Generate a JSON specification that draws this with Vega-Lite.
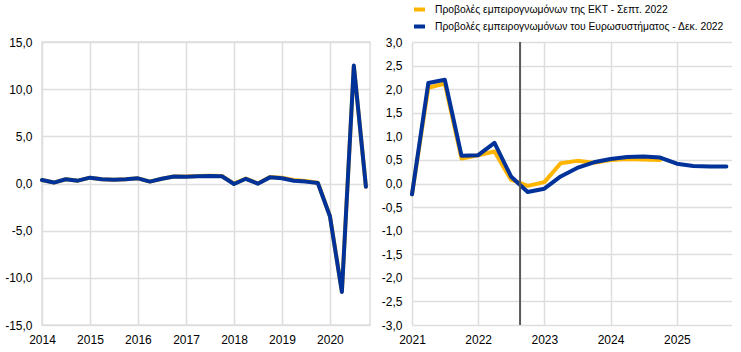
{
  "$schema": "https://vega.github.io/schema/vega-lite/v6.json",
  "background": "white",
  "padding": {"left": 3, "top": 2, "right": 0, "bottom": 0},
  "bounds": "flush",
  "spacing": 42,
  "config": {
    "locale": {"number": {"decimal": ",", "thousands": ".", "grouping": [3], "currency": ["", " €"], "minus": "-"}},
    "font": "Liberation Sans",
    "view": {"stroke": null},
    "axis": {"labelFont": "Liberation Sans", "labelFontSize": 12, "labelColor": "#000000", "gridColor": "#dedede", "gridWidth": 1.5, "domain": false, "ticks": false, "title": null, "labelOverlap": false},
    "line": {"strokeWidth": 4, "strokeJoin": "round", "strokeCap": "round"},
    "legend": {"symbolType": "stroke", "symbolStrokeWidth": 4, "symbolSize": 120, "labelFont": "Liberation Sans", "labelFontSize": 10.3, "labelColor": "#000000", "rowPadding": 4, "padding": 0, "labelOffset": 8, "labelLimit": 400}
  },
  "datasets": {
    "hist": [
      {"date": "2014-01-01", "series": "ecb", "value": 0.37},
      {"date": "2014-04-01", "series": "ecb", "value": 0.1},
      {"date": "2014-07-01", "series": "ecb", "value": 0.45},
      {"date": "2014-10-01", "series": "ecb", "value": 0.3},
      {"date": "2015-01-01", "series": "ecb", "value": 0.62},
      {"date": "2015-04-01", "series": "ecb", "value": 0.45},
      {"date": "2015-07-01", "series": "ecb", "value": 0.4},
      {"date": "2015-10-01", "series": "ecb", "value": 0.45},
      {"date": "2016-01-01", "series": "ecb", "value": 0.55},
      {"date": "2016-04-01", "series": "ecb", "value": 0.2},
      {"date": "2016-07-01", "series": "ecb", "value": 0.5},
      {"date": "2016-10-01", "series": "ecb", "value": 0.75},
      {"date": "2017-01-01", "series": "ecb", "value": 0.74},
      {"date": "2017-04-01", "series": "ecb", "value": 0.8},
      {"date": "2017-07-01", "series": "ecb", "value": 0.82},
      {"date": "2017-10-01", "series": "ecb", "value": 0.79},
      {"date": "2018-01-01", "series": "ecb", "value": -0.02},
      {"date": "2018-04-01", "series": "ecb", "value": 0.52},
      {"date": "2018-07-01", "series": "ecb", "value": 0.0},
      {"date": "2018-10-01", "series": "ecb", "value": 0.68},
      {"date": "2019-01-01", "series": "ecb", "value": 0.62},
      {"date": "2019-04-01", "series": "ecb", "value": 0.38},
      {"date": "2019-07-01", "series": "ecb", "value": 0.26},
      {"date": "2019-10-01", "series": "ecb", "value": 0.08},
      {"date": "2020-01-01", "series": "ecb", "value": -3.45},
      {"date": "2020-04-01", "series": "ecb", "value": -11.45},
      {"date": "2020-07-01", "series": "ecb", "value": 12.45},
      {"date": "2020-10-01", "series": "ecb", "value": -0.34},
      {"date": "2014-01-01", "series": "eur", "value": 0.37},
      {"date": "2014-04-01", "series": "eur", "value": 0.1},
      {"date": "2014-07-01", "series": "eur", "value": 0.45},
      {"date": "2014-10-01", "series": "eur", "value": 0.3},
      {"date": "2015-01-01", "series": "eur", "value": 0.62},
      {"date": "2015-04-01", "series": "eur", "value": 0.45},
      {"date": "2015-07-01", "series": "eur", "value": 0.4},
      {"date": "2015-10-01", "series": "eur", "value": 0.45},
      {"date": "2016-01-01", "series": "eur", "value": 0.55},
      {"date": "2016-04-01", "series": "eur", "value": 0.2},
      {"date": "2016-07-01", "series": "eur", "value": 0.5},
      {"date": "2016-10-01", "series": "eur", "value": 0.75},
      {"date": "2017-01-01", "series": "eur", "value": 0.72},
      {"date": "2017-04-01", "series": "eur", "value": 0.78},
      {"date": "2017-07-01", "series": "eur", "value": 0.8},
      {"date": "2017-10-01", "series": "eur", "value": 0.77},
      {"date": "2018-01-01", "series": "eur", "value": -0.05},
      {"date": "2018-04-01", "series": "eur", "value": 0.5},
      {"date": "2018-07-01", "series": "eur", "value": -0.02},
      {"date": "2018-10-01", "series": "eur", "value": 0.65},
      {"date": "2019-01-01", "series": "eur", "value": 0.55},
      {"date": "2019-04-01", "series": "eur", "value": 0.3},
      {"date": "2019-07-01", "series": "eur", "value": 0.2},
      {"date": "2019-10-01", "series": "eur", "value": 0.05},
      {"date": "2020-01-01", "series": "eur", "value": -3.47},
      {"date": "2020-04-01", "series": "eur", "value": -11.5},
      {"date": "2020-07-01", "series": "eur", "value": 12.5},
      {"date": "2020-10-01", "series": "eur", "value": -0.34}
    ],
    "proj": [
      {"date": "2021-01-01", "series": "ecb", "value": -0.23},
      {"date": "2021-04-01", "series": "ecb", "value": 2.03},
      {"date": "2021-07-01", "series": "ecb", "value": 2.12},
      {"date": "2021-10-01", "series": "ecb", "value": 0.53},
      {"date": "2022-01-01", "series": "ecb", "value": 0.6},
      {"date": "2022-04-01", "series": "ecb", "value": 0.68},
      {"date": "2022-07-01", "series": "ecb", "value": 0.08},
      {"date": "2022-10-01", "series": "ecb", "value": -0.05},
      {"date": "2023-01-01", "series": "ecb", "value": 0.03},
      {"date": "2023-04-01", "series": "ecb", "value": 0.43},
      {"date": "2023-07-01", "series": "ecb", "value": 0.48},
      {"date": "2023-10-01", "series": "ecb", "value": 0.44},
      {"date": "2024-01-01", "series": "ecb", "value": 0.5},
      {"date": "2024-04-01", "series": "ecb", "value": 0.52},
      {"date": "2024-07-01", "series": "ecb", "value": 0.51},
      {"date": "2024-10-01", "series": "ecb", "value": 0.5},
      {"date": "2021-01-01", "series": "eur", "value": -0.23},
      {"date": "2021-04-01", "series": "eur", "value": 2.13},
      {"date": "2021-07-01", "series": "eur", "value": 2.2},
      {"date": "2021-10-01", "series": "eur", "value": 0.59},
      {"date": "2022-01-01", "series": "eur", "value": 0.6},
      {"date": "2022-04-01", "series": "eur", "value": 0.86},
      {"date": "2022-07-01", "series": "eur", "value": 0.15},
      {"date": "2022-10-01", "series": "eur", "value": -0.18},
      {"date": "2023-01-01", "series": "eur", "value": -0.11},
      {"date": "2023-04-01", "series": "eur", "value": 0.15},
      {"date": "2023-07-01", "series": "eur", "value": 0.33},
      {"date": "2023-10-01", "series": "eur", "value": 0.45},
      {"date": "2024-01-01", "series": "eur", "value": 0.52},
      {"date": "2024-04-01", "series": "eur", "value": 0.56},
      {"date": "2024-07-01", "series": "eur", "value": 0.57},
      {"date": "2024-10-01", "series": "eur", "value": 0.55},
      {"date": "2025-01-01", "series": "eur", "value": 0.42},
      {"date": "2025-04-01", "series": "eur", "value": 0.37},
      {"date": "2025-07-01", "series": "eur", "value": 0.36},
      {"date": "2025-10-01", "series": "eur", "value": 0.36}
    ],
    "cutoff": [{"date": "2022-08-20"}]
  },
  "hconcat": [
    {
      "width": 328,
      "height": 283,
      "view": {"stroke": "#dedede", "strokeWidth": 1.5},
      "data": {"name": "hist"},
      "encoding": {
        "x": {"field": "date", "type": "temporal",
          "scale": {"type": "utc", "domain": [{"year": 2014, "month": 1, "date": 1, "utc": true}, {"year": 2020, "month": 11, "date": 1, "utc": true}]},
          "axis": {"tickCount": {"interval": "year", "step": 1}, "format": "%Y", "labelPadding": 9, "labelFlush": false}},
        "y": {"field": "value", "type": "quantitative",
          "scale": {"domain": [-15, 15], "nice": false},
          "axis": {"values": [-15, -10, -5, 0, 5, 10, 15], "format": ".1f", "labelPadding": 10}},
        "color": {"field": "series", "type": "nominal", "scale": {"domain": ["ecb", "eur"], "range": ["#FFB400", "#003299"]}, "legend": null}
      },
      "layer": [
        {"transform": [{"filter": "datum.series == 'ecb'"}], "mark": "line"},
        {"transform": [{"filter": "datum.series == 'eur'"}], "mark": "line"}
      ]
    },
    {
      "width": 320,
      "height": 283,
      "encoding": {
        "x": {"field": "date", "type": "temporal",
          "scale": {"type": "utc", "domain": [{"year": 2021, "month": 1, "date": 1, "utc": true}, {"year": 2025, "month": 11, "date": 1, "utc": true}]},
          "axis": {"tickCount": {"interval": "year", "step": 1}, "format": "%Y", "labelPadding": 9, "labelFlush": false}}
      },
      "layer": [
        {
          "data": {"name": "proj"},
          "transform": [{"filter": "datum.series == 'ecb'"}],
          "mark": "line",
          "encoding": {
            "y": {"field": "value", "type": "quantitative",
              "scale": {"domain": [-3, 3], "nice": false},
              "axis": {"values": [-3, -2.5, -2, -1.5, -1, -0.5, 0, 0.5, 1, 1.5, 2, 2.5, 3], "format": ".1f", "labelPadding": 10, "labelOverlap": false}},
            "color": {"field": "series", "type": "nominal",
              "scale": {"domain": ["ecb", "eur"], "range": ["#FFB400", "#003299"]},
              "legend": {"orient": "none", "legendX": 0, "legendY": -40, "title": null,
                "labelExpr": "datum.value == 'ecb' ? 'Προβολές εμπειρογνωμόνων της ΕΚΤ - Σεπτ. 2022' : 'Προβολές εμπειρογνωμόνων του Ευρωσυστήματος - Δεκ. 2022'"}}
          }
        },
        {
          "data": {"name": "proj"},
          "transform": [{"filter": "datum.series == 'eur'"}],
          "mark": "line",
          "encoding": {
            "y": {"field": "value", "type": "quantitative",
              "scale": {"domain": [-3, 3], "nice": false},
              "axis": {"values": [-3, -2.5, -2, -1.5, -1, -0.5, 0, 0.5, 1, 1.5, 2, 2.5, 3], "format": ".1f", "labelPadding": 10, "labelOverlap": false}},
            "color": {"field": "series", "type": "nominal"}
          }
        },
        {
          "data": {"name": "cutoff"},
          "mark": {"type": "rule", "color": "#595959", "strokeWidth": 2},
          "encoding": {}
        }
      ]
    }
  ],
  "resolve": {"scale": {"color": "independent"}}
}
